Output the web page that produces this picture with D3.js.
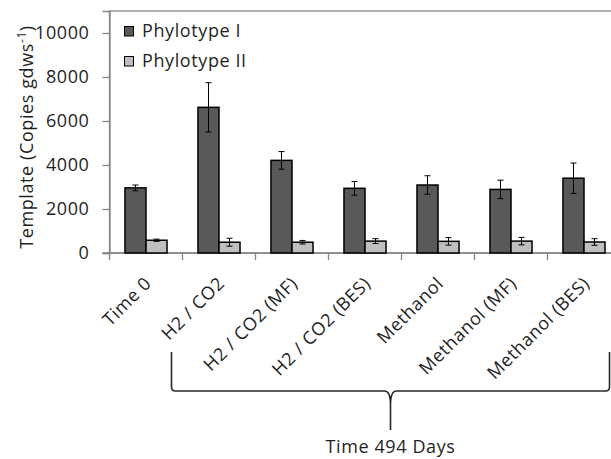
<!DOCTYPE html>
<html><head><meta charset="utf-8">
<script src="https://cdn.jsdelivr.net/npm/d3@7/dist/d3.min.js"></script>
<style>
html,body{margin:0;padding:0;background:#fff;}
svg text{font-family:"Open Sans",sans-serif;fill:#1f1f1f;}
</style></head><body>
<svg id="c" width="611" height="459"></svg>
<script>
const categories = ["Time 0","H2 / CO2","H2 / CO2 (MF)","H2 / CO2 (BES)","Methanol","Methanol (MF)","Methanol (BES)"];
const seriesNames = ["Phylotype I","Phylotype II"];
const phyI = [2960, 6620, 4210, 2940, 3090, 2890, 3400];
const phyIErr = [130, 1120, 400, 310, 420, 420, 690];
const phyII = [580, 490, 490, 540, 530, 540, 500];
const phyIIErr = [50, 180, 80, 110, 170, 170, 150];
const yTicks = [0, 2000, 4000, 6000, 8000, 10000];
const groupLabel = "Time 494 Days";

const colors = ["#595959", "#bfbfbf"];
const svg = d3.select("#c");
const L = 109.5, R = 620.5, T = 11, B = 253;
const FS = 18, LS = 0.6;

const x = d3.scaleBand().domain(categories).range([L, R]).padding(0);
const y = d3.scaleLinear().domain([0, 11000]).range([B, T]);
const bw = x.bandwidth();
const gap = bw * 0.212;
const x1 = d3.scaleBand().domain(seriesNames).range([gap, bw - gap]).padding(0);

// frame
svg.append("rect").attr("x", L).attr("y", T).attr("width", R - L).attr("height", B - T)
  .attr("fill", "none").attr("stroke", "#868686").attr("stroke-width", 1.3);

// y axis
const yAxis = d3.axisLeft(y).tickValues(yTicks).tickSize(7).tickPadding(13).tickFormat(d3.format("d"));
const gy = svg.append("g").attr("transform", `translate(${L},0)`).call(yAxis);
gy.select(".domain").attr("stroke", "#868686").attr("stroke-width", 1.3);
gy.selectAll(".tick line").attr("stroke", "#868686").attr("stroke-width", 1.3);
gy.selectAll(".tick text").attr("font-size", FS).attr("letter-spacing", LS).attr("fill", "#1f1f1f")
  .style("font-family", '"Open Sans",sans-serif');

// x axis line + ticks at boundaries
svg.append("line").attr("x1", L - 7).attr("x2", R).attr("y1", B).attr("y2", B)
  .attr("stroke", "#868686").attr("stroke-width", 1.3);
const bounds = categories.map(c => x(c)).concat([R]);
svg.append("g").selectAll("line").data(bounds).join("line")
  .attr("x1", d => d).attr("x2", d => d).attr("y1", B).attr("y2", B + 7)
  .attr("stroke", "#868686").attr("stroke-width", 1.3);

// bars
const seriesVals = [phyI, phyII];
const seriesErr = [phyIErr, phyIIErr];
seriesNames.forEach((s, si) => {
  const g = svg.append("g");
  g.selectAll("rect").data(categories).join("rect")
    .attr("x", (c) => x(c) + x1(s))
    .attr("width", x1.bandwidth())
    .attr("y", (c, i) => y(seriesVals[si][i]))
    .attr("height", (c, i) => B - y(seriesVals[si][i]))
    .attr("fill", colors[si]).attr("stroke", "#000").attr("stroke-width", 1.5);
  const eg = svg.append("g").attr("stroke", "#000").attr("stroke-width", 1);
  categories.forEach((c, i) => {
    const cx = x(c) + x1(s) + x1.bandwidth() / 2;
    const v = seriesVals[si][i], e = seriesErr[si][i];
    eg.append("line").attr("x1", cx).attr("x2", cx).attr("y1", y(v + e)).attr("y2", y(v - e));
    eg.append("line").attr("x1", cx - 3).attr("x2", cx + 3).attr("y1", y(v + e)).attr("y2", y(v + e));
    eg.append("line").attr("x1", cx - 3).attr("x2", cx + 3).attr("y1", y(v - e)).attr("y2", y(v - e));
  });
});

// x labels
svg.append("g").selectAll("text").data(categories).join("text")
  .attr("transform", c => `translate(${x(c) + bw / 2 + 2},${B + 27}) rotate(-45)`)
  .attr("text-anchor", "end").attr("dy", "0.36em")
  .attr("font-size", FS).attr("letter-spacing", LS)
  .text(c => c);

// y title
const yt = svg.append("text")
  .attr("transform", `translate(33,${(T + B) / 2 + 5}) rotate(-90)`)
  .attr("text-anchor", "middle").attr("font-size", FS).attr("letter-spacing", LS);
yt.append("tspan").text("Template (Copies gdws");
yt.append("tspan").attr("font-size", 12).attr("dy", -7).text("-1");
yt.append("tspan").attr("dy", 7).text(")");

// legend
const lg = svg.append("g");
seriesNames.forEach((s, i) => {
  lg.append("rect").attr("x", 124.5).attr("y", 26.5 + i * 30).attr("width", 9).attr("height", 9.5)
    .attr("fill", colors[i]).attr("stroke", "#000").attr("stroke-width", 1);
  lg.append("text").attr("x", 142).attr("y", 37 + i * 30)
    .attr("font-size", FS).attr("letter-spacing", LS).text(s);
});

// bracket for Time 494 Days
const bl = x(categories[1]) - 11, br = x(categories[categories.length - 1]) + bw - 11;
const bm = (bl + br) / 2, by = 391, btop = 352, btip = 430, r = 4;
const path = d3.path();
path.moveTo(bl, btop);
path.lineTo(bl, by - r);
path.quadraticCurveTo(bl, by, bl + r, by);
path.lineTo(bm - 6, by);
path.quadraticCurveTo(bm, by, bm, by + 14);
path.lineTo(bm, btip);
path.moveTo(bm, by + 14);
path.quadraticCurveTo(bm, by, bm + 6, by);
path.lineTo(br - r, by);
path.quadraticCurveTo(br, by, br, by - r);
path.lineTo(br, btop);
svg.append("path").attr("d", path.toString()).attr("fill", "none")
  .attr("stroke", "#262626").attr("stroke-width", 1.6);
svg.append("text").attr("x", bm).attr("y", 453).attr("text-anchor", "middle")
  .attr("font-size", FS).attr("letter-spacing", LS).text(groupLabel);
</script>
</body></html>
